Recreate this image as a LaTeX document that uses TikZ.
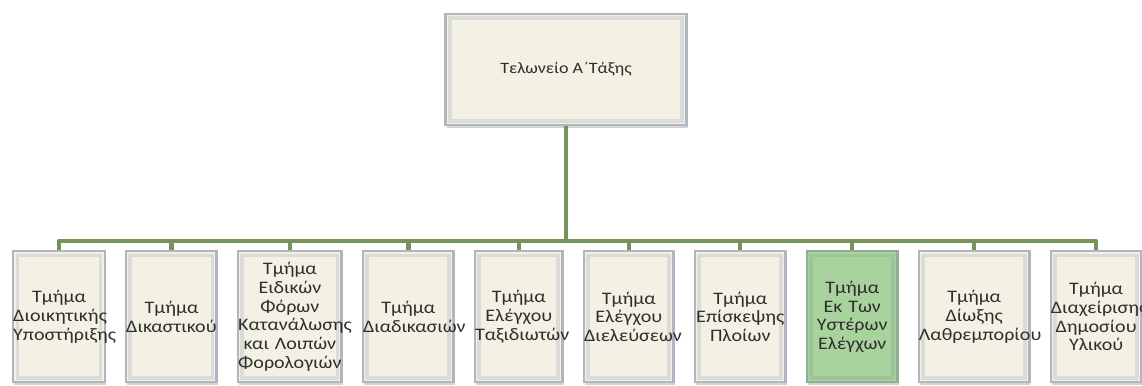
\documentclass[tikz,border=0pt]{standalone}
\usepackage{fontspec}
\setmainfont{Carlito}[FakeStretch=1.14]
\usetikzlibrary{positioning, shadows}
\definecolor{cream}{HTML}{F3F1E3}
\definecolor{bevel}{HTML}{AEB6C2}
\definecolor{mint}{HTML}{A8D39C}
\definecolor{mintedge}{HTML}{8FAE94}
\definecolor{olive}{HTML}{76935A}
\definecolor{ink}{HTML}{2E2E2E}

\begin{document}
\begin{tikzpicture}[
  font=\fontsize{10}{10.6}\selectfont,
  every node/.style={align=center, text=ink},
  inset/.style={path picture={
      \draw[#1, line width=2.2pt]
        ([shift={(2.4pt,-2.4pt)}]path picture bounding box.north west) rectangle
        ([shift={(-2.4pt,2.4pt)}]path picture bounding box.south east);}},
  head/.style={rectangle, fill=cream, draw=bevel, line width=1.4pt,
               minimum width=4.82cm, minimum height=2.22cm,
               font=\fontsize{9}{10}\selectfont, inset=bevel!35!cream,
               drop shadow={opacity=0.35, shadow xshift=0.6pt, shadow yshift=-1.6pt}},
  unit/.style={rectangle, fill=cream, draw=bevel, line width=1.4pt, inner sep=0pt,
               text width=#1, minimum height=2.62cm, inset=bevel!35!cream,
               drop shadow={opacity=0.35, shadow xshift=0.6pt, shadow yshift=-1.6pt}},
  focus/.style={fill=mint, draw=mintedge, inset=mintedge!40!mint},
  branch/.style={olive, line width=2.5pt, line join=round},
]
\useasboundingbox (0,0) rectangle (22.84,-7.7);

% ---------- head office ----------
\node[head] (head) at (11.32,-1.39) {Τελωνείο Α΄Τάξης};

% ---------- departments, left to right ----------
\node[unit=1.83cm, anchor=north west] (dioik) at (0.24,-5.0) {Τμήμα\\ Διοικητικής\\ Υποστήριξης};
\node[unit=1.81cm, right=3.8mm of dioik] (dikast) {Τμήμα\\ Δικαστικού};
\node[unit=2.07cm, right=3.8mm of dikast] (foron) {Τμήμα\\ Ειδικών\\ Φόρων\\ Κατανάλωσης\\ και Λοιπών\\ Φορολογιών};
\node[unit=1.81cm, right=3.8mm of foron] (diad) {Τμήμα\\ Διαδικασιών};
\node[unit=1.75cm, right=3.8mm of diad] (taxid) {Τμήμα\\ Ελέγχου\\ Ταξιδιωτών};
\node[unit=1.79cm, right=3.8mm of taxid] (dieleus) {Τμήμα\\ Ελέγχου\\ Διελεύσεων};
\node[unit=1.81cm, right=3.8mm of dieleus] (ploion) {Τμήμα\\ Επίσκεψης\\ Πλοίων};
\node[unit=1.81cm, focus, right=3.8mm of ploion] (ysteron) {Τμήμα\\ Εκ Των\\ Υστέρων\\ Ελέγχων};
\node[unit=2.21cm, right=3.8mm of ysteron] (dioxis) {Τμήμα\\ Δίωξης\\ Λαθρεμπορίου};
\node[unit=1.81cm, right=3.8mm of dioxis] (ylikou) {Τμήμα\\ Διαχείρισης\\ Δημοσίου\\ Υλικού};

% ---------- connectors ----------
\coordinate (bus) at (0,-4.82);
\draw[branch] (head.south) -- (head.south |- bus);
\draw[branch] (dioik.north) -- (dioik.north |- bus) -- (ylikou.north |- bus) -- (ylikou.north);
\foreach \n in {dikast,foron,diad,taxid,dieleus,ploion,ysteron,dioxis}
  \draw[branch] (\n.north) -- (\n.north |- bus);

\end{tikzpicture}
\end{document}
